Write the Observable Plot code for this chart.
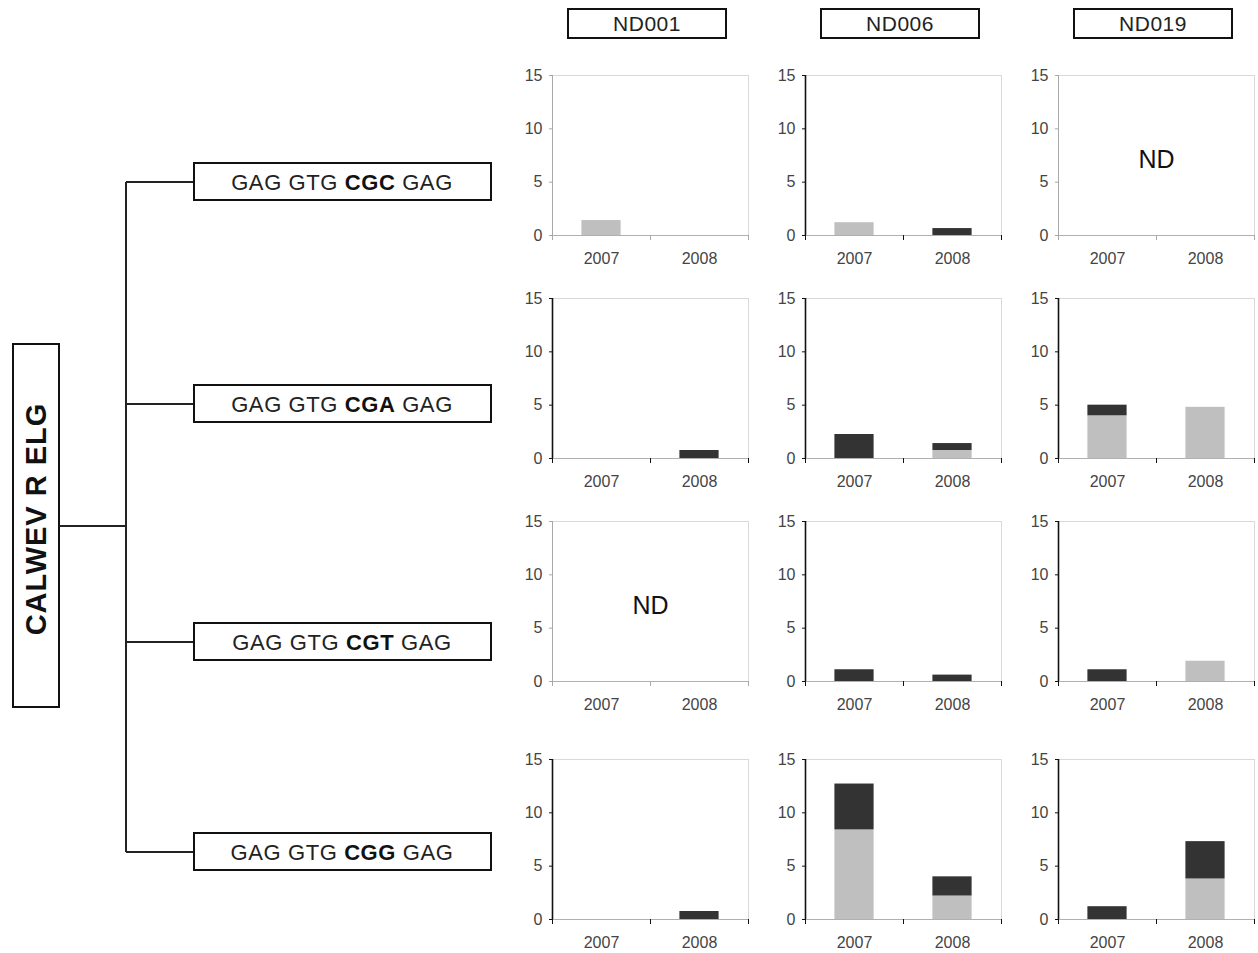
<!DOCTYPE html>
<html>
<head>
<meta charset="utf-8">
<script src="https://cdn.jsdelivr.net/npm/d3@7"></script>
<script src="https://cdn.jsdelivr.net/npm/@observablehq/plot@0.6"></script>
<style>
  html, body { margin: 0; padding: 0; background: #fff; }
  #root { position: relative; width: 1258px; height: 953px; overflow: hidden; background: #fff;
          font-family: "Liberation Sans", Arial, sans-serif; }
  .hdr { position: absolute; box-sizing: border-box; border: 2px solid #111; text-align: center;
         font-size: 21px; letter-spacing: 0.5px; color: #222; }
  .panel { position: absolute; }
  .panel svg { max-width: none !important; }
</style>
</head>
<body>
<div id="root"></div>
<script>
// ---------- data ----------
const rootLabel = "CALWEV R ELG";
const codons = ["CGC", "CGA", "CGT", "CGG"];          // rows
const sites = ["ND001", "ND006", "ND019"];            // columns
const years = ["2007", "2008"];
const yTicks = [0, 5, 10, 15];
// [codon][site] -> [2007, 2008]; null = ND (not determined)
const lightSeries = [
  [[1.4, 0],   [1.2, 0],    null],
  [[0, 0],     [0, 0.75],   [4.0, 4.8]],
  [null,       [0, 0],      [0, 1.9]],
  [[0, 0],     [8.4, 2.2],  [0, 3.8]]
];
const darkSeries = [
  [[0, 0],     [0, 0.65],   null],
  [[0, 0.75],  [2.25, 0.65],[1.0, 0]],
  [null,       [1.1, 0.6],  [1.1, 0]],
  [[0, 0.75],  [4.3, 1.8],  [1.2, 3.5]]
];

// ---------- layout ----------
const root = document.getElementById("root");
const colLeft = [552, 805, 1058];
const rowTop = [75, 298, 521, 759];
const PW = 196, PH = 160;
const ML = 40, MR = 4, MT = 8, MB = 34;
const lightAxisPanels = ["CGC|ND001", "CGC|ND019", "CGT|ND001"];

// column headers
sites.forEach((s, si) => {
  const d = document.createElement("div");
  d.className = "hdr";
  const cx = colLeft[si] + PW / 2 - 3;
  d.style.left = (cx - 80) + "px";
  d.style.top = "8px";
  d.style.width = "160px";
  d.style.height = "31px";
  d.style.lineHeight = "27px";
  d.textContent = s;
  root.appendChild(d);
});

// tree (decoration)
const branchY = [182, 404, 642, 852];
const NS = "http://www.w3.org/2000/svg";
const tree = document.createElementNS(NS, "svg");
tree.setAttribute("width", 500);
tree.setAttribute("height", 953);
tree.style.position = "absolute";
tree.style.left = "0px";
tree.style.top = "0px";
let svgHtml = "";
svgHtml += `<rect x="13" y="344" width="46" height="363" fill="none" stroke="#111" stroke-width="2"/>`;
svgHtml += `<text transform="translate(46,519) rotate(-90)" text-anchor="middle" font-family="Liberation Sans, Arial, sans-serif" font-weight="bold" font-size="29" letter-spacing="1" fill="#111">${rootLabel}</text>`;
svgHtml += `<line x1="59" y1="526" x2="126" y2="526" stroke="#222" stroke-width="2"/>`;
svgHtml += `<line x1="126" y1="${branchY[0]}" x2="126" y2="${branchY[3]}" stroke="#222" stroke-width="2"/>`;
codons.forEach((c, ci) => {
  const y = branchY[ci];
  svgHtml += `<line x1="126" y1="${y}" x2="194" y2="${y}" stroke="#222" stroke-width="2"/>`;
  svgHtml += `<rect x="194" y="${y - 19}" width="297" height="37" fill="#fff" stroke="#111" stroke-width="2"/>`;
  svgHtml += `<text x="342" y="${y + 8}" text-anchor="middle" font-family="Liberation Sans, Arial, sans-serif" font-size="22" letter-spacing="0.6" fill="#222">GAG GTG <tspan font-weight="bold" fill="#111">${c}</tspan> GAG</text>`;
});
tree.innerHTML = svgHtml;
root.appendChild(tree);

// panels
codons.forEach((c, ci) => {
  sites.forEach((s, si) => {
    const L = lightSeries[ci][si], D = darkSeries[ci][si];
    const nd = L == null;
    const rows = nd ? [] : years.flatMap((y, i) => [
      {idx: i, year: y, series: "light", value: L[i]},
      {idx: i, year: y, series: "dark", value: D[i]}
    ]).filter(d => d.value > 0);
    const lightAxis = nd || lightAxisPanels.includes(c + "|" + s);
    const axisColor = lightAxis ? "#a8a8a8" : "#111";
    const chart = Plot.plot({
      width: ML + PW + MR,
      height: MT + PH + MB,
      marginLeft: ML, marginRight: MR, marginTop: MT, marginBottom: MB,
      x: {type: "linear", domain: [0, years.length], axis: null},
      y: {domain: [0, 15], axis: null},
      color: {domain: ["light", "dark"], range: ["#bfbfbf", "#333333"]},
      style: {fontFamily: "Liberation Sans, Arial, sans-serif", fontSize: "16px", background: "transparent", overflow: "visible", maxWidth: "none"},
      marks: [
        Plot.frame({stroke: "#d9d9d9"}),
        Plot.rectY(rows, {x1: d => d.idx + 0.3, x2: d => d.idx + 0.7, y: "value", fill: "series"}),
        Plot.ruleY([0], {stroke: "#b0b0b0"}),
        Plot.ruleX([0], {stroke: axisColor, strokeWidth: lightAxis ? 1 : 1.6}),
        Plot.axisY({ticks: yTicks, tickSize: 3, tickPadding: 7, label: null, stroke: axisColor, fill: "#444", fontSize: 16}),
        Plot.axisX({ticks: [0, 1, 2], tickSize: 5, tickFormat: () => "", label: null, stroke: axisColor}),
        Plot.axisX({ticks: years.map((y, i) => i + 0.5), tickSize: 0, tickPadding: 17, label: null,
                    tickFormat: d => years[Math.floor(d)], fill: "#444", fontSize: 16}),
        nd ? Plot.text(["ND"], {frameAnchor: "middle", dy: 4, fontSize: 25, fill: "#111"}) : null
      ]
    });
    const wrap = document.createElement("div");
    wrap.className = "panel";
    wrap.style.left = (colLeft[si] - ML) + "px";
    wrap.style.top = (rowTop[ci] - MT) + "px";
    wrap.style.width = (ML + PW + MR) + "px";
    wrap.appendChild(chart);
    root.appendChild(wrap);
  });
});
</script>
</body>
</html>
